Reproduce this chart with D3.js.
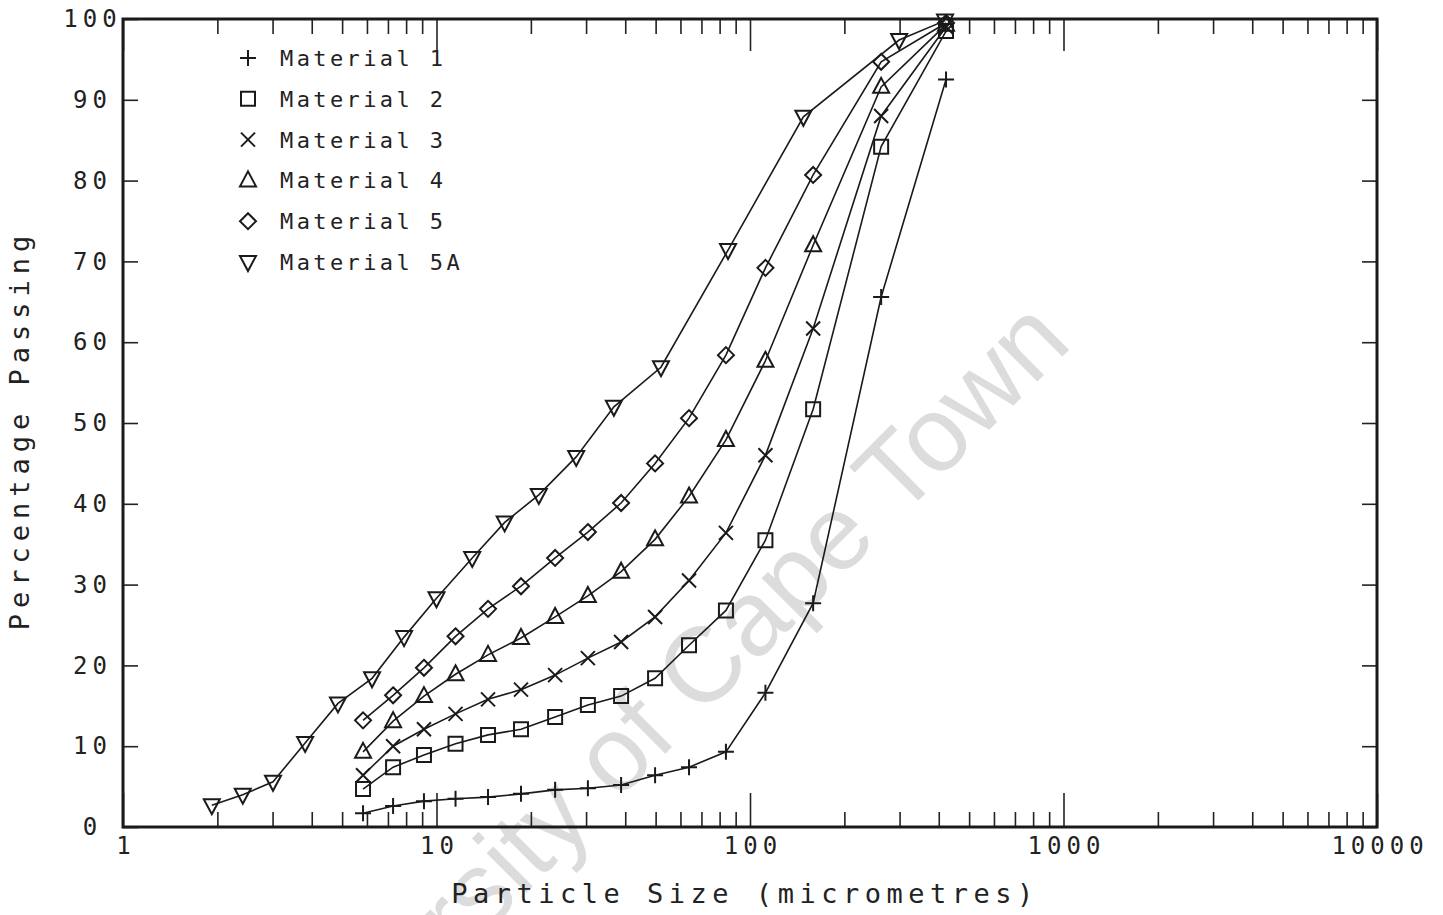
<!DOCTYPE html>
<html>
<head>
<meta charset="utf-8">
<script src="https://cdn.jsdelivr.net/npm/d3@7"></script>
<style>
  body { margin: 0; background: #fff; }
  text { font-family: "DejaVu Sans Mono", monospace; fill: #222; }
  .tick line { stroke: #222; stroke-width: 1.6; }
  .domain { display: none; }
</style>
</head>
<body>
<div id="chart"></div>
<script>

// particle sizes (micrometres) shared by materials 1 - 5
var sizes = [5.83, 7.27, 9.12, 11.5, 14.6, 18.6, 23.9, 30.4, 38.8, 49.8, 63.9, 83.8, 112, 159, 262, 422]

// material 5A was measured on its own set of sizes
var sizes5A = [1.92, 2.41, 3.01, 3.81, 4.85, 6.23, 7.88, 10.0, 13.0, 16.5, 21.2, 27.9, 36.8, 52.0, 85.1, 148, 299, 419]

var material1 = [1.7, 2.6, 3.2, 3.5, 3.7, 4.1, 4.6, 4.8, 5.2, 6.4, 7.4, 9.3, 16.6, 27.7, 65.6, 92.5]
var material2 = [4.7, 7.4, 8.9, 10.3, 11.4, 12.1, 13.6, 15.1, 16.2, 18.4, 22.5, 26.8, 35.5, 51.7, 84.2, 98.5]
var material3 = [6.4, 10.0, 12.1, 14.0, 15.8, 17.0, 18.8, 20.9, 22.9, 26.0, 30.5, 36.4, 46.0, 61.7, 88.0, 99.0]
var material4 = [9.3, 13.1, 16.2, 18.9, 21.3, 23.4, 26.0, 28.6, 31.6, 35.6, 40.9, 47.9, 57.7, 72.0, 91.6, 99.3]
var material5 = [13.2, 16.3, 19.7, 23.6, 27.0, 29.8, 33.3, 36.5, 40.1, 45.0, 50.6, 58.4, 69.2, 80.7, 94.7, 99.5]
var material5A = [2.7, 4.0, 5.6, 10.4, 15.3, 18.4, 23.5, 28.3, 33.3, 37.7, 41.1, 45.8, 52.0, 56.9, 71.4, 87.9, 97.4, 99.8]

var seriesNames = ["Material 1", "Material 2", "Material 3", "Material 4", "Material 5", "Material 5A"]
var seriesSymbols = ["plus", "square", "cross", "triUp", "diamond", "triDown"]

var xTickValues = [1, 10, 100, 1000, 10000]
var yTickValues = [0, 10, 20, 30, 40, 50, 60, 70, 80, 90, 100]

var series = [
	{ name: seriesNames[0], symbol: seriesSymbols[0], x: sizes, y: material1 },
	{ name: seriesNames[1], symbol: seriesSymbols[1], x: sizes, y: material2 },
	{ name: seriesNames[2], symbol: seriesSymbols[2], x: sizes, y: material3 },
	{ name: seriesNames[3], symbol: seriesSymbols[3], x: sizes, y: material4 },
	{ name: seriesNames[4], symbol: seriesSymbols[4], x: sizes, y: material5 },
	{ name: seriesNames[5], symbol: seriesSymbols[5], x: sizes5A, y: material5A }
]

var width = 1443
var height = 915

var margin = { top: 19, right: 66, bottom: 88, left: 123 }

var xScale = d3.scaleLog()
	.domain([1, 10000])
	.range([margin.left, width - margin.right])

var yScale = d3.scaleLinear()
	.domain([0, 100])
	.range([height - margin.bottom, margin.top])

var svg = d3.select("#chart")
	.append("svg")
	.attr("width", width)
	.attr("height", height)

svg.append("rect")
	.attr("width", width)
	.attr("height", height)
	.attr("fill", "#fff")

// scanned watermark
svg.append("text")
	.attr("transform", "translate(1074,345) rotate(-45)")
	.attr("text-anchor", "end")
	.style("font-family", "'Liberation Sans', Arial, sans-serif")
	.style("font-size", "106px")
	.style("fill", "#dcdcdc")
	.text("University of Cape Town")

var plotBottom = yScale(0)
var plotTop = yScale(100)

// minor ticks, 2..9 in every decade
var minorTicks = []
for (var d = 1; d < 10000; d *= 10) {
	for (var m = 2; m <= 9; m++) minorTicks.push(d * m)
}

svg.append("g")
	.attr("transform", "translate(0," + plotBottom + ")")
	.call(d3.axisBottom(xScale).tickValues(minorTicks).tickSize(-15).tickFormat(""))

svg.append("g")
	.attr("transform", "translate(0," + plotTop + ")")
	.call(d3.axisTop(xScale).tickValues(minorTicks).tickSize(-15).tickFormat(""))

var xAxis = svg.append("g")
	.attr("transform", "translate(0," + plotBottom + ")")
	.call(d3.axisBottom(xScale).tickValues(xTickValues).tickSize(-34).tickPadding(10).tickFormat(d3.format("d")))

xAxis.selectAll("text")
	.style("font-size", "24px")
	.style("letter-spacing", "5px")
	.attr("dx", "2.5px")

svg.append("g")
	.attr("transform", "translate(0," + plotTop + ")")
	.call(d3.axisTop(xScale).tickValues(xTickValues).tickSize(-32).tickFormat(""))

var yAxis = svg.append("g")
	.attr("transform", "translate(" + margin.left + ",0)")
	.call(d3.axisLeft(yScale).tickValues(yTickValues).tickSize(-15))

yAxis.selectAll("text")
	.attr("x", -33)
	.style("text-anchor", "middle")
	.style("font-size", "24px")
	.style("letter-spacing", "5px")
	.attr("dx", "2.5px")

svg.append("g")
	.attr("transform", "translate(" + (width - margin.right) + ",0)")
	.call(d3.axisRight(yScale).tickValues(yTickValues).tickSize(-15).tickFormat(""))

// frame
svg.append("rect")
	.attr("x", xScale(1))
	.attr("y", plotTop)
	.attr("width", xScale(10000) - xScale(1))
	.attr("height", plotBottom - plotTop)
	.attr("fill", "none")
	.attr("stroke", "#1a1a1a")
	.attr("stroke-width", 3)

// axis titles
svg.append("text")
	.attr("x", 745)
	.attr("y", 903)
	.attr("text-anchor", "middle")
	.style("font-size", "27px")
	.style("letter-spacing", "5.5px")
	.text("Particle Size (micrometres)")

svg.append("text")
	.attr("transform", "translate(29,430) rotate(-90)")
	.attr("text-anchor", "middle")
	.style("font-size", "27px")
	.style("letter-spacing", "6px")
	.text("Percentage Passing")

// marker shapes drawn as paths around 0,0
function symbolPath(type) {
	var s = 7
	if (type == "plus") return "M" + (-s - 1) + ",0H" + (s + 1) + "M0," + (-s - 1) + "V" + (s + 1)
	if (type == "cross") return "M" + (-s) + "," + (-s) + "L" + s + "," + s + "M" + (-s) + "," + s + "L" + s + "," + (-s)
	if (type == "square") return "M-7,-7H7V7H-7Z"
	if (type == "diamond") return "M0,-8L8,0L0,8L-8,0Z"
	if (type == "triUp") return "M0,-9L8,6H-8Z"
	if (type == "triDown") return "M0,9L8,-6H-8Z"
}

var line = d3.line()
	.x(function(d) { return xScale(d[0]) })
	.y(function(d) { return yScale(d[1]) })

series.forEach(function(s) {

	var points = s.x.map(function(v, i) { return [v, s.y[i]] })

	svg.append("path")
		.datum(points)
		.attr("d", line)
		.attr("fill", "none")
		.attr("stroke", "#1a1a1a")
		.attr("stroke-width", 1.6)

	svg.selectAll(null)
		.data(points)
		.enter()
		.append("path")
		.attr("transform", function(d) { return "translate(" + xScale(d[0]) + "," + yScale(d[1]) + ")" })
		.attr("d", symbolPath(s.symbol))
		.attr("fill", "none")
		.attr("stroke", "#1a1a1a")
		.attr("stroke-width", 2)

})

// legend
var legend = svg.append("g")
	.attr("transform", "translate(248,58)")

series.forEach(function(s, i) {

	var row = legend.append("g")
		.attr("transform", "translate(0," + (i * 40.8) + ")")

	row.append("path")
		.attr("d", symbolPath(s.symbol))
		.attr("fill", "none")
		.attr("stroke", "#1a1a1a")
		.attr("stroke-width", 2)

	row.append("text")
		.attr("x", 32)
		.attr("y", 8)
		.style("font-size", "22px")
		.style("letter-spacing", "3.4px")
		.text(s.name)

})

</script>
</body>
</html>
